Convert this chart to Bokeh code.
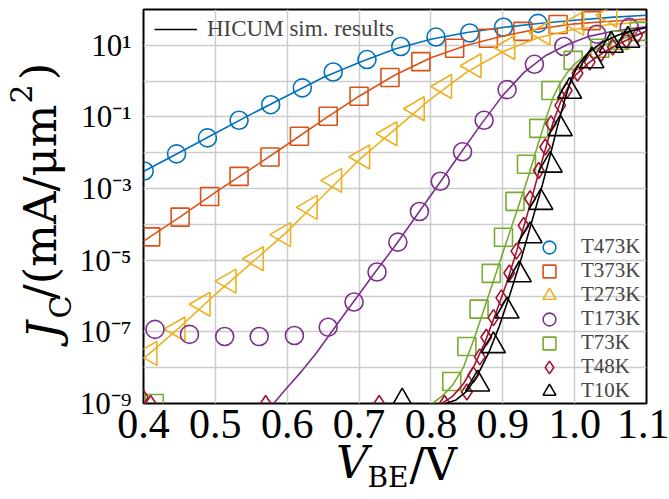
import math
from bokeh.plotting import figure
from bokeh.models import (Range1d, FixedTicker, CustomJSTickFormatter, Legend,
                          LegendItem, LinearAxis, LogAxis)
from bokeh.embed import file_html
from bokeh.resources import INLINE

# ---------------- data ----------------
X_TICKS = [0.4, 0.5, 0.6, 0.7, 0.8, 0.9, 1.0, 1.1]
Y_DECADES = [1e-9, 1e-8, 1e-7, 1e-6, 1e-5, 1e-4, 1e-3, 1e-2, 1e-1, 1e0, 1e1, 1e2]

# measurements (markers)
V_T473 = [0.401, 0.446, 0.489, 0.533, 0.577, 0.621, 0.664, 0.711, 0.758, 0.807, 0.854, 0.901, 0.949]
J_T473 = [3.1e-3, 9.3e-3, 2.6e-2, 8.1e-2, 0.22, 0.65, 1.8, 4.0, 9.3, 17, 22, 32, 41]

V_T373 = [0.410, 0.451, 0.492, 0.533, 0.576, 0.617, 0.657, 0.700, 0.743, 0.786, 0.833, 0.880, 0.928, 0.977, 1.023]
J_T373 = [4.5e-5, 1.6e-4, 6.0e-4, 2.2e-3, 7.6e-3, 2.9e-2, 0.105, 0.38, 1.26, 3.5, 8.3, 15.8, 24.5, 38, 49]

V_T273 = [0.409, 0.448, 0.483, 0.519, 0.557, 0.595, 0.632, 0.666, 0.705, 0.743, 0.781, 0.819, 0.860, 0.907, 0.956, 1.003, 1.049]
J_T273 = [2.5e-8, 1.2e-7, 5.9e-7, 2.6e-6, 1.1e-5, 5.2e-5, 3.0e-4, 1.7e-3, 7.6e-3, 3.4e-2, 0.17, 0.71, 2.7, 8.7, 22, 41, 69]

V_T173 = [0.416, 0.464, 0.513, 0.561, 0.610, 0.657, 0.693, 0.725, 0.754, 0.784, 0.813, 0.844, 0.874, 0.906, 0.944, 0.985, 1.031, 1.076]
J_T173 = [1.17e-7, 8.5e-8, 7.4e-8, 7.4e-8, 7.9e-8, 1.35e-7, 6.8e-7, 4.7e-6, 3.2e-5, 2.3e-4, 1.6e-3, 1.07e-2, 8.1e-2, 0.58, 2.95, 9.3, 20.4, 31.6]

V_T73 = [0.415, 0.829, 0.850, 0.867, 0.884, 0.901, 0.917, 0.933, 0.950, 0.967, 0.998, 1.035, 1.063, 1.090]
J_T73 = [1.0e-9, 4.1e-9, 3.9e-8, 4.3e-7, 4.3e-6, 4.4e-5, 4.4e-4, 4.8e-3, 4.8e-2, 0.55, 3.8, 8.3, 13.8, 24.5]

V_T48 = [0.399, 0.410, 0.570, 0.728, 0.819, 0.850, 0.859, 0.868, 0.877, 0.887, 0.898, 0.909, 0.919,
         0.929, 0.938, 0.950, 0.959, 0.967, 0.980, 0.989, 1.004, 1.021, 1.037, 1.053, 1.072, 1.087]
J_T48 = [1.5e-9, 1.0e-9, 1.0e-9, 1.0e-9, 1.0e-9, 2.1e-9, 6.3e-9, 2.0e-8, 7.1e-8, 2.5e-7, 8.9e-7, 4.4e-6, 1.8e-5,
         9.3e-5, 5.2e-4, 3.2e-3, 1.45e-2, 6.5e-2, 0.21, 0.55, 1.66, 3.4, 5.9, 8.9, 13.8, 19]

V_T10 = [0.760, 0.865, 0.887, 0.906, 0.923, 0.938, 0.953, 0.966, 0.980, 0.993, 1.024, 1.051, 1.074]
J_T10 = [1.1e-9, 3.5e-9, 4.1e-8, 3.8e-7, 3.9e-6, 4.8e-5, 4.1e-4, 4.5e-3, 4.7e-2, 0.52, 3.7, 10, 13.8]

# HICUM simulation results (lines)
VS_HI = [0.4, 0.45, 0.5, 0.55, 0.6, 0.65, 0.7, 0.75, 0.8, 0.85, 0.9, 0.95, 1.0, 1.05, 1.1]
JS_T473 = [3.0e-3, 1.02e-2, 3.5e-2, 0.12, 0.39, 1.26, 3.3, 7.9, 14.8, 22.9, 31.6, 40.7, 50.1, 60.3, 69.2]
JS_T373 = [3.4e-5, 1.58e-4, 7.8e-4, 3.6e-3, 1.7e-2, 8.3e-2, 0.38, 1.48, 4.5, 10, 18.2, 28.8, 39.8, 46.8, 53.7]
JS_T273 = [1.78e-8, 1.32e-7, 1.12e-6, 8.3e-6, 6.3e-5, 6.3e-4, 6.3e-3, 4.5e-2, 0.32, 1.78, 6.6, 16.6, 28.2, 38, 45.7]

VS_T173 = [0.581, 0.60, 0.62, 0.64, 0.66, 0.68, 0.70, 0.72, 0.75, 0.78, 0.81, 0.84, 0.87, 0.90, 0.93,
           0.96, 0.99, 1.02, 1.05, 1.08, 1.10]
JS_T173 = [1e-9, 2.8e-9, 7.9e-9, 2.5e-8, 8.9e-8, 3.2e-7, 1.12e-6, 4.0e-6, 2.5e-5, 1.78e-4, 1.26e-3,
           8.9e-3, 6.3e-2, 0.4, 1.78, 5.2, 10.5, 17.8, 24, 29.5, 33.1]

VS_T73 = [0.802, 0.815, 0.83, 0.845, 0.86, 0.875, 0.89, 0.905, 0.92, 0.935, 0.95, 0.96, 0.97, 0.98,
          0.99, 1.0, 1.02, 1.05, 1.08, 1.1]
JS_T73 = [1e-9, 1.58e-9, 3.2e-9, 1e-8, 6.3e-8, 5e-7, 4e-6, 3.2e-5, 2.5e-4, 2e-3, 2e-2, 8.9e-2, 0.35,
          0.89, 1.78, 3.0, 6.3, 12, 18.6, 22.9]

VS_T48 = [0.815, 0.83, 0.845, 0.86, 0.875, 0.89, 0.905, 0.92, 0.935, 0.95, 0.96, 0.97, 0.98, 0.99,
          1.0, 1.02, 1.04, 1.06, 1.08, 1.1]
JS_T48 = [1e-9, 1.58e-9, 3.5e-9, 1.12e-8, 5e-8, 3.2e-7, 2.2e-6, 2e-5, 2.2e-4, 2.8e-3, 1.4e-2, 7.1e-2,
          0.25, 0.63, 1.41, 3.3, 6.3, 10.5, 16.6, 25.1]

VS_T10 = [0.82, 0.835, 0.85, 0.865, 0.88, 0.895, 0.91, 0.925, 0.94, 0.955, 0.965, 0.975, 0.985, 0.995,
          1.005, 1.02, 1.04, 1.06, 1.08, 1.1]
JS_T10 = [1e-9, 1.26e-9, 2.2e-9, 6.3e-9, 2.5e-8, 1.41e-7, 1.12e-6, 1e-5, 1.12e-4, 1.26e-3, 7.1e-3,
          4.5e-2, 0.25, 1.12, 2.8, 6.6, 12.6, 19, 25.7, 31.6]

LABELS = ["T473K", "T373K", "T273K", "T173K", "T73K", "T48K", "T10K"]
COLORS = ["#0072BD", "#D95319", "#EDB120", "#7E2F8E", "#77AC30", "#A2142F", "#000000"]

# ---------------- figure ----------------
p = figure(width=669, height=499, x_range=Range1d(0.4, 1.1), y_range=Range1d(1e-9, 1e2),
           y_axis_type="log", output_backend="svg", toolbar_location=None,
           min_border_left=141, min_border_right=23, min_border_top=9, min_border_bottom=96)
p.background_fill_color = "white"
p.border_fill_color = "white"
p.outline_line_color = "black"
p.outline_line_width = 2
p.outline_line_alpha = 1

p.xaxis.ticker = FixedTicker(ticks=X_TICKS)
p.yaxis.ticker = FixedTicker(ticks=Y_DECADES)
p.xaxis.formatter = CustomJSTickFormatter(code="return tick.toFixed(1);")
p.yaxis.formatter = CustomJSTickFormatter(code="""
const e = Math.round(Math.log10(tick));
if (Math.abs(e) % 2 !== 1) { return ""; }
const m = {"-": "\\u207b", "0": "\\u2070", "1": "\\u00b9", "2": "\\u00b2", "3": "\\u00b3",
           "4": "\\u2074", "5": "\\u2075", "6": "\\u2076", "7": "\\u2077", "8": "\\u2078", "9": "\\u2079"};
return "10" + String(e).split("").map(c => m[c]).join("");
""")
for ax in (p.xaxis, p.yaxis):
    ax.axis_line_color = None
    ax.major_tick_line_color = None
    ax.minor_tick_line_color = None
    ax.major_tick_out = 0
    ax.major_tick_in = 0
    ax.minor_tick_out = 0
    ax.minor_tick_in = 0
    ax.major_label_text_font = "Liberation Serif"
    ax.major_label_text_color = "black"
p.xaxis.major_label_text_font_size = "42px"
p.xaxis.major_label_standoff = 6
p.yaxis.major_label_text_font_size = "31px"
p.yaxis.major_label_standoff = 12

p.grid.grid_line_color = "#cccccc"
p.grid.grid_line_width = 1.5

series = [
    (V_T473, J_T473, VS_HI, JS_T473, "circle", 18, 0.0),
    (V_T373, J_T373, VS_HI, JS_T373, "square", 18, 0.0),
    (V_T273, J_T273, VS_HI, JS_T273, "triangle", 24, math.pi / 2),
    (V_T173, J_T173, VS_T173, JS_T173, "circle", 18, 0.0),
    (V_T73, J_T73, VS_T73, JS_T73, "square", 18, 0.0),
    (V_T48, J_T48, VS_T48, JS_T48, "diamond", 16, 0.0),
    (V_T10, J_T10, VS_T10, JS_T10, "triangle", 24, 0.0),
]

marker_renderers = []
line_renderers = []
for (vm, jm, vs, js, mk, sz, ang), col in zip(series, COLORS):
    lr = p.line(vs, js, line_color=col, line_width=1.6)
    mr = p.scatter(vm, jm, marker=mk, size=sz, angle=ang, fill_color=None,
                   line_color=col, line_width=1.6)
    marker_renderers.append(mr)
    line_renderers.append(lr)

# legend of measurements (bottom right, no frame), one single-row legend per entry
for i, (lab_txt, r) in enumerate(zip(LABELS, marker_renderers)):
    row_center = 246.5 + 24 * i
    bottom_rel = (403 - row_center) - 16
    leg = Legend(items=[LegendItem(label=lab_txt, renderers=[r])],
                 location=(390, bottom_rel), glyph_width=32, glyph_height=32, padding=0,
                 label_standoff=16, margin=0, spacing=0,
                 background_fill_alpha=0, border_line_alpha=0,
                 label_text_font="Liberation Serif", label_text_font_size="21px")
    p.add_layout(leg, "center")

# legend of simulation line (top left)
leg_sim = Legend(items=[LegendItem(label="HICUM sim. results", renderers=[line_renderers[-1]])],
                 location=(0, 350), glyph_width=43, glyph_height=20, padding=11, margin=0,
                 label_standoff=10, background_fill_alpha=0, border_line_alpha=0,
                 label_text_font="Liberation Serif", label_text_font_size="23px")
p.add_layout(leg_sim, "center")

# ---------------- axis titles: pieces carried by label-only axes in the side panels ----------------
TF = "DejaVu Serif"

def pad(px, font_px):
    """Run of fixed-width unicode spaces about px wide (used to shift a centred title piece)."""
    out = ""
    rem = px / font_px  # in em
    for ch, w in (("\u2003", 1.0), ("\u2002", 0.5), ("\u2009", 0.2), ("\u2006", 1 / 6)):
        while rem >= w - 0.04:
            out += ch
            rem -= w
    return out

def _blank(ax):
    ax.ticker = FixedTicker(ticks=[])
    ax.axis_line_color = None
    ax.major_tick_line_color = None
    ax.minor_tick_line_color = None
    ax.major_tick_out = 0
    ax.major_tick_in = 0
    ax.minor_tick_out = 0
    ax.minor_tick_in = 0
    ax.major_label_standoff = 0
    ax.axis_label_text_color = "black"
    ax.axis_label_text_font = TF

def x_piece(text, standoff, size_px, style="normal"):
    ax = LinearAxis(axis_label=text, axis_label_standoff=standoff,
                    axis_label_text_font_size=f"{size_px}px", axis_label_text_font_style=style)
    _blank(ax)
    p.add_layout(ax, "below")

def y_piece(text, standoff, size_px, style="normal"):
    ax = LogAxis(axis_label=text, axis_label_standoff=standoff,
                 axis_label_text_font_size=f"{size_px}px", axis_label_text_font_style=style)
    _blank(ax)
    p.add_layout(ax, "left")

# V_BE / V   (panels stack downwards; negative standoffs pull pieces back up)
x_piece("V" + pad(88, 45), -5, 45, "italic")
x_piece(pad(79, 45) + "/V", -54, 45)
x_piece("BE" + pad(13, 28), -33, 28)

# J_C / (mA / μm^2)   (panels stack leftwards)
y_piece("C" + pad(202, 30), -1, 30)
y_piece("J" + pad(251, 45), -30, 45, "italic")
y_piece(pad(9, 45) + "/(mA/\u03bcm", -53, 45)
y_piece(pad(272, 45) + ")", -53, 45)
y_piece(pad(226, 30) + "2", -31, 30)

open("out.html", "w").write(file_html(p, INLINE))
